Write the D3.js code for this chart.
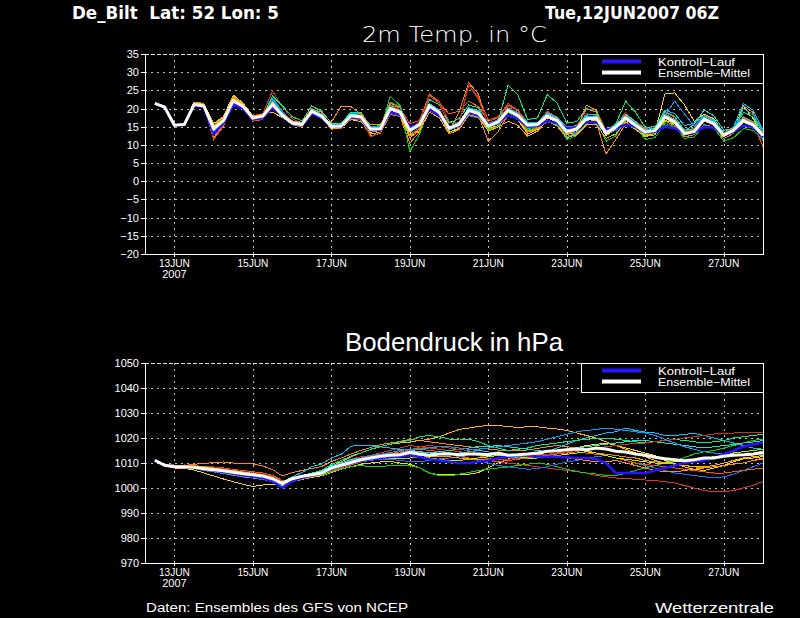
<!DOCTYPE html>
<html>
<head>
<meta charset="utf-8">
<script src="https://cdn.jsdelivr.net/npm/d3@7"></script>
<style>
  body { margin: 0; background: #000; }
  svg { display: block; }
  text { fill: #fff; font-family: "Liberation Sans", "DejaVu Sans", sans-serif; }
</style>
</head>
<body>
<div id="chart"></div>
<script>

/*
 * Data: GFS ensemble meteogram De_Bilt, run Tue 12JUN2007 06Z
 * 6-hourly steps starting 12JUN 12Z
 */

var stationLabel = "De_Bilt  Lat: 52 Lon: 5";
var runLabel = "Tue,12JUN2007 06Z";
var dayTicks = [13, 15, 17, 19, 21, 23, 25, 27];
var tempTicks = [-20, -15, -10, -5, 0, 5, 10, 15, 20, 25, 30, 35];
var presTicks = [970, 980, 990, 1000, 1010, 1020, 1030, 1040, 1050];
var legendLabels = ["Kontroll\u2212Lauf", "Ensemble\u2212Mittel"];
var memberColors = ["#e6321e", "#ff8c00", "#ffd700", "#00dc00", "#00c8ff", "#1e78ff", "#ff5a00",
                    "#ffb400", "#00f08c", "#20e0c8", "#c83c14", "#b4f000", "#00a0ff", "#ff9600"];

// 2m temperature (°C)
var tempMean = [21.4, 20.4, 15.4, 15.6, 21.1, 20.7, 14.4, 16.7, 22.2, 20.6, 17.4, 17.9, 21.1, 18.1, 16.0, 15.6, 19.2, 17.9, 15.1, 15.2, 18.0,
  17.7, 14.3, 14.4, 20.0, 19.0, 14.0, 15.6, 20.7, 18.9, 14.6, 15.6, 19.5, 18.6, 15.2, 16.3, 19.5, 18.1, 15.4, 15.6, 17.9,
  16.7, 13.7, 14.4, 17.2, 17.4, 13.3, 14.9, 17.4, 15.4, 13.5, 14.0, 17.7, 16.3, 13.1, 13.7, 17.0, 15.8, 12.6, 14.0, 16.7, 15.5, 12.6];
var tempControl = [21.4, 20.4, 15.4, 15.6, 20.8, 20.4, 13.0, 16.0, 21.0, 20.0, 17.0, 17.4, 20.2, 18.0, 15.8, 15.4, 18.6, 17.5, 15.0, 15.2, 17.6,
  17.2, 14.0, 14.2, 19.0, 18.2, 15.0, 15.6, 19.8, 18.2, 15.0, 15.2, 19.0, 18.0, 15.6, 16.0, 18.2, 17.2, 15.0, 15.2, 16.6,
  16.0, 14.6, 14.8, 16.2, 16.2, 14.2, 14.6, 15.6, 15.0, 13.2, 13.6, 15.0, 14.6, 13.0, 13.3, 14.9, 14.8, 12.6, 13.6, 15.4, 15.0, 12.0];
var tempRun01 = [21.6, 20.7, 15.2, 15.5, 21.5, 21.0, 14.9, 17.2, 23.4, 21.3, 18.0, 18.6, 24.8, 20.5, 17.2, 16.0, 20.1, 18.5, 15.6, 15.4, 18.9,
  18.2, 14.9, 15.0, 21.8, 20.6, 14.5, 16.4, 23.9, 22.0, 16.5, 16.0, 26.5, 23.1, 16.9, 17.8, 21.4, 19.6, 16.2, 15.9, 19.3,
  17.5, 14.6, 15.1, 18.6, 18.0, 13.9, 15.8, 18.9, 16.3, 14.1, 14.8, 19.0, 17.5, 13.6, 14.5, 18.3, 16.9, 13.4, 14.8, 17.8, 16.4, 13.5];
var tempRun02 = [21.3, 20.3, 15.5, 15.7, 20.8, 20.4, 12.0, 15.6, 21.6, 20.2, 16.9, 17.4, 20.4, 17.6, 15.5, 15.0, 18.6, 17.6, 14.3, 14.9, 17.2,
  16.8, 12.5, 13.2, 18.4, 17.8, 10.5, 13.6, 19.6, 18.0, 13.8, 19.0, 27.1, 24.0, 14.3, 15.0, 18.2, 17.0, 13.5, 14.2, 16.4,
  15.6, 12.4, 13.0, 16.0, 16.2, 7.5, 11.5, 15.8, 14.5, 12.6, 13.2, 16.5, 15.4, 12.2, 12.8, 15.6, 14.9, 11.7, 13.2, 20.8, 18.9, 11.0];
var tempRun03 = [21.5, 20.5, 15.6, 15.8, 21.6, 21.2, 15.9, 17.8, 23.7, 21.5, 17.8, 18.3, 19.0, 17.5, 16.0, 15.3, 18.8, 17.4, 14.6, 14.7, 17.0,
  16.4, 13.5, 14.0, 19.0, 18.5, 12.8, 14.5, 19.8, 18.6, 13.5, 14.6, 18.0, 17.5, 14.6, 15.3, 18.1, 16.9, 13.0, 14.3, 18.2,
  16.2, 12.8, 13.6, 16.4, 16.8, 12.5, 14.3, 16.9, 15.0, 12.8, 13.6, 24.0, 24.3, 21.0, 16.5, 18.5, 17.2, 13.0, 14.0, 20.6, 17.2, 12.0];
var tempRun04 = [21.2, 20.2, 15.3, 15.5, 20.9, 20.5, 14.0, 16.2, 22.0, 20.4, 17.2, 17.7, 20.6, 17.8, 15.8, 15.4, 19.0, 17.6, 15.0, 15.0, 17.5,
  17.0, 13.8, 14.1, 23.4, 20.8, 8.2, 13.0, 20.2, 18.4, 14.2, 15.0, 19.0, 18.1, 14.0, 15.2, 19.0, 17.5, 14.2, 14.6, 16.9,
  15.5, 11.5, 12.5, 16.0, 16.5, 11.0, 12.5, 17.0, 15.0, 11.5, 12.0, 16.0, 15.0, 11.8, 12.2, 15.5, 14.6, 11.0, 12.0, 14.5, 14.0, 11.5];
var tempRun05 = [21.5, 20.6, 15.4, 15.6, 21.3, 20.9, 14.8, 17.0, 23.0, 20.9, 17.6, 18.2, 22.8, 19.3, 16.6, 15.8, 19.5, 18.3, 15.3, 15.4, 18.4,
  18.0, 14.8, 15.1, 21.0, 19.6, 14.5, 16.0, 21.4, 19.5, 15.0, 16.1, 20.3, 19.4, 15.8, 17.0, 20.4, 18.9, 16.3, 16.2, 18.8,
  17.6, 14.9, 15.3, 18.2, 18.4, 14.2, 15.6, 18.0, 16.2, 14.2, 14.6, 19.6, 18.6, 15.3, 16.0, 18.0, 16.8, 13.4, 14.9, 21.4, 19.5, 14.0];
var tempRun06 = [21.3, 20.3, 15.3, 15.5, 20.7, 20.3, 13.2, 16.0, 21.3, 20.1, 16.8, 17.5, 20.3, 17.6, 15.6, 15.3, 18.5, 17.2, 14.8, 15.0, 17.3,
  17.1, 13.9, 14.0, 19.2, 18.4, 13.6, 15.0, 19.5, 18.0, 14.0, 15.2, 18.0, 17.4, 15.0, 15.7, 18.1, 17.0, 14.8, 15.1, 16.5,
  15.9, 13.2, 13.5, 15.5, 15.8, 13.0, 14.0, 15.6, 15.0, 13.6, 13.9, 15.4, 14.8, 13.2, 13.5, 15.3, 14.8, 12.8, 13.5, 15.2, 14.6, 12.2];
var tempRun07 = [21.4, 20.4, 15.2, 15.4, 21.0, 20.6, 11.5, 15.2, 21.8, 20.0, 16.5, 17.0, 21.5, 18.5, 16.2, 15.1, 18.7, 17.6, 14.8, 14.6, 17.6,
  17.4, 14.6, 14.8, 21.0, 20.2, 15.8, 16.7, 24.0, 21.5, 18.5, 19.3, 22.0, 20.5, 16.5, 17.5, 21.0, 19.4, 15.5, 15.5, 18.5,
  17.3, 14.3, 15.0, 19.8, 19.6, 14.0, 15.2, 18.2, 16.5, 14.5, 15.1, 18.3, 16.8, 13.3, 14.2, 17.5, 16.2, 13.2, 14.6, 17.4, 16.0, 9.5];
var tempRun08 = [21.6, 20.6, 15.5, 15.7, 21.4, 21.0, 14.6, 17.3, 22.8, 21.0, 17.7, 18.1, 21.0, 17.9, 15.6, 15.2, 18.6, 17.3, 14.5, 14.7, 17.0,
  16.9, 13.0, 13.5, 18.8, 18.0, 12.0, 14.0, 19.0, 17.5, 13.0, 14.2, 18.3, 17.6, 13.8, 14.9, 16.5, 15.4, 12.4, 13.8, 16.6,
  15.2, 12.0, 12.8, 15.5, 15.6, 11.8, 13.0, 16.4, 14.2, 12.3, 12.8, 17.6, 16.1, 12.9, 13.6, 17.6, 16.3, 12.4, 13.6, 16.8, 15.4, 12.2];
var tempRun09 = [21.3, 20.4, 15.6, 15.8, 21.2, 20.8, 15.2, 17.4, 22.4, 20.8, 17.5, 18.0, 23.5, 20.8, 17.8, 16.6, 20.7, 19.3, 16.0, 16.0, 19.0,
  19.0, 15.0, 15.3, 21.5, 20.4, 13.8, 15.8, 22.5, 21.0, 16.0, 17.2, 21.0, 20.2, 14.5, 16.4, 26.4, 23.8, 17.0, 17.4, 23.8,
  21.6, 16.0, 16.4, 20.0, 19.0, 13.8, 15.8, 22.0, 19.0, 14.8, 15.0, 19.2, 17.8, 14.0, 14.5, 17.2, 16.6, 13.0, 14.2, 19.0, 17.6, 13.6];
var tempRun10 = [21.5, 20.5, 15.4, 15.6, 21.0, 20.6, 14.2, 16.8, 22.5, 20.7, 17.6, 18.0, 22.0, 18.8, 16.4, 16.0, 19.6, 18.2, 15.4, 15.6, 18.3,
  18.2, 14.6, 14.8, 20.6, 19.6, 14.6, 16.0, 20.5, 19.0, 14.9, 16.2, 20.0, 19.1, 15.5, 16.6, 19.8, 18.6, 15.8, 16.0, 18.6,
  17.5, 14.2, 15.0, 17.7, 17.8, 13.9, 15.3, 18.4, 16.3, 14.0, 14.6, 18.5, 17.0, 13.7, 15.8, 19.6, 18.0, 14.0, 14.6, 17.6, 16.3, 13.0];
var tempRun11 = [21.4, 20.4, 15.3, 15.5, 21.2, 20.8, 13.8, 16.4, 21.9, 20.4, 17.0, 17.6, 21.6, 18.4, 16.2, 15.4, 19.0, 17.8, 15.0, 15.1, 18.2,
  17.9, 12.2, 13.5, 20.6, 19.8, 12.5, 14.8, 23.5, 21.4, 15.2, 15.6, 26.6, 22.5, 15.6, 16.8, 20.5, 18.6, 15.5, 15.5, 18.0,
  16.5, 13.6, 14.2, 17.0, 17.4, 13.2, 14.6, 17.0, 15.2, 13.4, 13.9, 17.3, 15.9, 12.7, 13.4, 16.6, 15.4, 12.4, 13.9, 16.4, 15.2, 12.4];
var tempRun12 = [21.4, 20.5, 15.5, 15.7, 21.4, 20.9, 15.0, 17.0, 22.0, 20.5, 17.3, 17.8, 20.8, 17.8, 15.9, 15.5, 19.3, 18.0, 15.2, 15.3, 17.9,
  17.6, 14.0, 14.2, 19.5, 18.8, 14.8, 15.8, 20.2, 18.5, 14.4, 15.4, 19.2, 18.2, 15.2, 16.0, 19.2, 17.8, 15.0, 15.3, 17.4,
  16.4, 13.0, 14.0, 16.8, 17.0, 12.8, 14.5, 17.2, 15.3, 12.4, 13.2, 16.8, 15.8, 13.0, 13.4, 16.8, 15.5, 12.3, 13.7, 16.2, 15.3, 11.8];
var tempRun13 = [21.2, 20.3, 15.4, 15.6, 21.0, 20.6, 13.6, 16.4, 22.4, 20.8, 17.5, 18.0, 22.4, 19.0, 16.5, 15.8, 20.0, 18.6, 15.5, 15.6, 18.6,
  18.5, 15.0, 15.0, 20.4, 19.4, 14.8, 16.0, 21.0, 19.5, 15.0, 16.0, 19.6, 18.6, 16.0, 16.8, 20.0, 18.8, 14.5, 15.0, 17.6,
  16.6, 12.2, 13.4, 17.6, 17.8, 13.6, 15.0, 17.8, 16.0, 13.8, 14.2, 18.2, 22.0, 18.5, 15.2, 17.8, 16.4, 12.8, 14.2, 20.0, 18.4, 13.8];
var tempRun14 = [21.5, 20.6, 15.6, 15.8, 21.8, 21.4, 15.4, 17.6, 23.2, 21.2, 17.9, 18.4, 21.8, 18.6, 16.6, 16.2, 19.8, 19.0, 16.2, 20.7, 20.5,
  18.5, 15.5, 15.6, 20.4, 19.4, 12.4, 14.4, 20.8, 19.2, 13.0, 14.4, 18.8, 18.0, 11.0, 13.6, 18.2, 17.2, 13.8, 14.5, 17.4,
  16.8, 13.0, 14.0, 20.9, 19.5, 13.0, 14.6, 17.6, 15.8, 13.4, 14.0, 17.4, 16.4, 12.8, 13.4, 17.4, 16.0, 12.2, 14.4, 17.0, 15.8, 12.4];

// surface pressure (hPa)
var presMean = [1011.1, 1009.1, 1008.5, 1008.5, 1008.3, 1007.7, 1007.3, 1006.9, 1006.3, 1005.7, 1005.3, 1004.8, 1003.7, 1001.9, 1003.7, 1004.7, 1005.3, 1006.0, 1008.0, 1009.1, 1010.2,
  1011.3, 1012.0, 1012.7, 1013.1, 1013.3, 1014.3, 1013.6, 1013.1, 1013.6, 1013.7, 1013.3, 1013.6, 1013.6, 1013.3, 1014.0, 1013.1, 1013.3, 1013.6, 1014.0, 1014.7, 1014.9,
  1015.3, 1015.6, 1015.3, 1016.0, 1015.6, 1014.7, 1014.4, 1013.6, 1013.1, 1012.3, 1011.7, 1011.3, 1010.9, 1011.3, 1012.0, 1012.0, 1012.7, 1013.1, 1013.3, 1013.6, 1014.3];
var presControl = [1011.2, 1009.1, 1008.5, 1008.4, 1008.2, 1007.5, 1007.0, 1006.4, 1005.7, 1005.0, 1004.5, 1004.0, 1002.8, 1000.0, 1002.8, 1004.0, 1005.0, 1005.8, 1007.6, 1008.8, 1010.0,
  1010.8, 1011.6, 1012.0, 1012.4, 1012.6, 1013.0, 1012.4, 1011.5, 1011.0, 1010.5, 1010.0, 1010.0, 1010.5, 1011.0, 1012.0, 1012.5, 1013.0, 1013.0, 1012.6, 1012.5, 1012.5,
  1012.3, 1012.0, 1012.0, 1011.5, 1010.0, 1006.0, 1006.0, 1006.0, 1006.0, 1007.0, 1008.0, 1009.0, 1010.0, 1010.6, 1011.0, 1012.0, 1013.5, 1015.0, 1016.5, 1017.5, 1018.2];
var presRun01 = [1011.3, 1009.5, 1009.0, 1009.2, 1009.0, 1008.6, 1008.0, 1007.5, 1007.0, 1006.5, 1006.0, 1005.5, 1004.6, 1002.5, 1004.0, 1005.0, 1005.6, 1006.5, 1008.5, 1010.0, 1011.5,
  1012.5, 1013.0, 1014.0, 1015.0, 1016.0, 1017.0, 1016.5, 1016.0, 1015.5, 1015.0, 1014.6, 1014.0, 1013.0, 1011.5, 1010.5, 1010.0, 1009.5, 1009.0, 1008.5, 1008.0, 1007.5,
  1007.0, 1006.5, 1006.0, 1005.0, 1004.5, 1004.0, 1003.8, 1003.5, 1003.2, 1003.0, 1002.5, 1002.0, 1001.0, 1000.0, 999.0, 998.5, 998.4, 999.0, 1000.0, 1001.0, 1002.6];
var presRun02 = [1011.0, 1009.0, 1008.8, 1009.0, 1009.5, 1009.8, 1010.2, 1010.4, 1010.0, 1010.0, 1009.6, 1008.8, 1007.4, 1004.8, 1006.2, 1007.0, 1007.8, 1008.6, 1010.6, 1012.0, 1013.6,
  1015.0, 1016.2, 1017.4, 1018.0, 1018.6, 1019.4, 1019.0, 1018.5, 1018.0, 1017.4, 1017.0, 1016.5, 1016.0, 1015.6, 1015.2, 1015.0, 1014.8, 1015.2, 1015.8, 1016.5, 1017.0,
  1016.5, 1016.0, 1015.0, 1014.0, 1013.5, 1013.0, 1012.4, 1012.0, 1011.0, 1010.5, 1010.0, 1009.5, 1009.0, 1008.5, 1008.0, 1008.5, 1009.0, 1009.6, 1010.0, 1011.0, 1011.5];
var presRun03 = [1011.0, 1008.8, 1008.0, 1007.8, 1007.2, 1006.0, 1004.8, 1003.6, 1002.5, 1001.5, 1000.6, 1001.2, 1001.4, 1001.0, 1002.6, 1003.5, 1004.3, 1004.9, 1006.2, 1007.5, 1008.5,
  1009.5, 1010.0, 1010.4, 1010.6, 1010.0, 1009.5, 1008.0, 1006.0, 1005.3, 1005.3, 1005.5, 1005.5, 1006.2, 1008.0, 1010.0, 1011.6, 1012.2, 1013.0, 1014.0, 1015.0, 1015.2,
  1015.5, 1016.0, 1017.0, 1017.4, 1018.0, 1017.0, 1016.0, 1015.0, 1014.0, 1013.0, 1011.0, 1009.8, 1008.4, 1007.5, 1007.0, 1008.0, 1009.0, 1010.5, 1011.6, 1012.0, 1012.6];
var presRun04 = [1011.2, 1009.2, 1008.6, 1008.5, 1008.2, 1007.5, 1007.0, 1006.2, 1005.6, 1004.8, 1004.0, 1003.4, 1002.6, 1001.0, 1002.6, 1003.8, 1004.5, 1005.0, 1006.5, 1007.6, 1008.6,
  1009.0, 1008.5, 1008.5, 1009.0, 1009.2, 1009.0, 1008.0, 1006.0, 1005.0, 1004.8, 1005.5, 1006.2, 1007.0, 1007.5, 1008.0, 1008.4, 1009.0, 1009.5, 1010.0, 1009.5, 1008.5,
  1007.5, 1006.6, 1006.0, 1005.6, 1005.0, 1005.0, 1005.8, 1007.0, 1008.0, 1009.0, 1010.0, 1011.0, 1012.2, 1013.6, 1014.5, 1015.0, 1016.0, 1017.0, 1018.0, 1019.0, 1019.6];
var presRun05 = [1011.2, 1009.3, 1008.6, 1008.6, 1008.4, 1008.0, 1007.8, 1007.4, 1006.8, 1006.0, 1005.6, 1005.0, 1004.0, 1002.4, 1004.5, 1006.2, 1008.5, 1009.6, 1012.0, 1013.5, 1016.7,
  1017.2, 1017.0, 1016.5, 1016.0, 1015.4, 1015.0, 1014.4, 1014.0, 1013.5, 1013.6, 1014.0, 1014.5, 1015.0, 1014.5, 1013.5, 1012.5, 1012.0, 1012.0, 1013.0, 1014.5, 1016.0,
  1017.5, 1019.0, 1020.0, 1021.0, 1022.0, 1022.5, 1024.0, 1023.0, 1022.4, 1022.0, 1021.0, 1021.0, 1021.5, 1021.8, 1021.0, 1020.0, 1019.0, 1018.0, 1017.0, 1016.0, 1015.5];
var presRun06 = [1011.0, 1009.0, 1008.3, 1008.2, 1007.8, 1007.0, 1006.4, 1005.8, 1005.0, 1004.4, 1004.0, 1003.4, 1002.4, 1000.2, 1002.4, 1003.6, 1004.4, 1005.2, 1007.0, 1008.2, 1009.4,
  1010.5, 1011.0, 1011.5, 1011.5, 1011.0, 1010.6, 1010.6, 1011.0, 1011.6, 1012.0, 1012.6, 1012.0, 1011.0, 1010.0, 1009.0, 1008.5, 1008.0, 1007.5, 1007.8, 1008.5, 1009.5,
  1010.5, 1011.0, 1012.0, 1012.5, 1013.0, 1012.0, 1011.0, 1010.0, 1009.0, 1008.0, 1007.0, 1006.0, 1005.5, 1005.0, 1004.5, 1004.0, 1004.5, 1005.5, 1007.0, 1008.5, 1010.0];
var presRun07 = [1011.3, 1009.4, 1008.7, 1008.6, 1008.6, 1008.4, 1008.2, 1008.0, 1007.4, 1007.0, 1006.5, 1006.0, 1005.0, 1003.0, 1003.5, 1004.0, 1004.6, 1005.4, 1006.8, 1008.0, 1009.2,
  1010.4, 1011.6, 1012.6, 1013.6, 1014.5, 1015.0, 1015.5, 1015.0, 1014.6, 1014.0, 1013.0, 1012.0, 1011.4, 1011.0, 1010.5, 1011.0, 1011.5, 1012.0, 1012.6, 1013.0, 1013.6,
  1014.0, 1014.5, 1014.0, 1013.5, 1013.0, 1012.0, 1011.0, 1010.0, 1009.4, 1009.0, 1008.5, 1008.0, 1007.5, 1007.0, 1006.5, 1006.0, 1006.0, 1006.5, 1007.0, 1007.5, 1008.0];
var presRun08 = [1011.0, 1008.9, 1008.4, 1008.2, 1007.9, 1007.2, 1006.6, 1006.0, 1005.4, 1005.0, 1004.4, 1003.6, 1002.8, 1001.4, 1003.0, 1004.0, 1005.0, 1006.0, 1008.6, 1010.5, 1012.5,
  1014.0, 1015.5, 1016.5, 1017.5, 1018.0, 1018.4, 1019.0, 1019.5, 1020.5, 1022.0, 1023.4, 1024.0, 1024.6, 1025.0, 1025.0, 1024.6, 1024.2, 1024.5, 1024.5, 1024.0, 1023.6,
  1023.0, 1022.0, 1021.0, 1020.0, 1018.5, 1017.0, 1015.5, 1014.0, 1012.5, 1011.0, 1010.0, 1009.5, 1009.0, 1008.5, 1008.5, 1009.0, 1010.0, 1011.0, 1012.0, 1012.5, 1013.0];
var presRun09 = [1011.1, 1009.2, 1008.6, 1008.7, 1008.6, 1008.2, 1007.6, 1007.0, 1006.6, 1006.2, 1005.8, 1005.3, 1004.2, 1002.0, 1003.8, 1005.0, 1006.0, 1007.0, 1009.4, 1011.0, 1012.8,
  1014.0, 1015.5, 1016.5, 1017.5, 1018.5, 1019.0, 1020.5, 1021.0, 1020.5, 1019.6, 1019.6, 1019.5, 1018.5, 1017.0, 1016.0, 1015.0, 1015.5, 1016.0, 1017.0, 1017.5, 1018.0,
  1018.6, 1019.0, 1019.5, 1019.8, 1020.0, 1019.5, 1019.0, 1018.5, 1018.0, 1018.6, 1019.0, 1019.4, 1019.0, 1018.5, 1018.0, 1018.5, 1019.0, 1020.0, 1020.5, 1021.0, 1021.5];
var presRun10 = [1011.2, 1009.1, 1008.5, 1008.4, 1008.2, 1007.6, 1007.2, 1006.8, 1006.2, 1005.6, 1005.2, 1004.6, 1003.5, 1001.5, 1003.4, 1004.6, 1005.6, 1006.6, 1008.8, 1010.0, 1011.4,
  1012.0, 1012.5, 1013.5, 1014.0, 1014.0, 1015.0, 1014.6, 1014.0, 1014.5, 1015.0, 1015.5, 1016.0, 1016.6, 1016.6, 1017.0, 1016.5, 1016.0, 1015.5, 1015.0, 1014.5, 1014.8,
  1015.5, 1016.0, 1016.5, 1017.0, 1017.5, 1018.0, 1018.5, 1019.0, 1019.0, 1018.5, 1018.0, 1017.5, 1017.0, 1016.5, 1016.0, 1016.5, 1017.0, 1017.4, 1018.0, 1018.4, 1019.0];
var presRun11 = [1011.2, 1009.4, 1009.2, 1009.2, 1009.0, 1008.6, 1008.4, 1007.8, 1007.2, 1006.6, 1006.0, 1005.4, 1004.4, 1002.2, 1003.6, 1004.4, 1005.0, 1005.8, 1007.6, 1009.0, 1010.6,
  1011.8, 1012.8, 1013.4, 1013.8, 1014.0, 1015.0, 1016.4, 1017.0, 1016.5, 1016.0, 1015.4, 1015.0, 1013.5, 1012.0, 1011.5, 1011.5, 1012.0, 1012.5, 1013.0, 1013.5, 1014.0,
  1014.5, 1015.0, 1015.5, 1016.0, 1016.5, 1017.0, 1017.5, 1017.8, 1018.0, 1018.5, 1019.0, 1019.5, 1020.0, 1020.5, 1021.0, 1021.6, 1022.0, 1022.0, 1022.2, 1022.4, 1022.2];
var presRun12 = [1011.0, 1009.0, 1008.4, 1008.3, 1008.0, 1007.4, 1006.8, 1006.0, 1005.2, 1004.6, 1004.0, 1003.6, 1002.8, 1001.0, 1002.5, 1003.4, 1004.2, 1005.2, 1007.2, 1008.6, 1010.0,
  1011.0, 1011.6, 1012.0, 1012.0, 1011.6, 1012.0, 1012.5, 1012.0, 1011.5, 1011.0, 1011.0, 1011.5, 1012.0, 1012.5, 1013.0, 1013.0, 1012.5, 1012.0, 1012.0, 1012.5, 1013.0,
  1013.5, 1014.0, 1014.5, 1014.0, 1013.0, 1012.0, 1011.5, 1011.0, 1010.5, 1010.0, 1010.0, 1010.5, 1011.0, 1011.5, 1012.0, 1012.5, 1013.0, 1014.0, 1014.5, 1015.0, 1015.5];
var presRun13 = [1011.1, 1009.0, 1008.3, 1008.3, 1008.0, 1007.5, 1007.2, 1006.6, 1006.0, 1005.2, 1004.8, 1004.2, 1003.2, 1001.2, 1003.0, 1004.0, 1005.0, 1006.4, 1008.6, 1009.8, 1011.0,
  1012.0, 1013.0, 1013.5, 1014.2, 1015.0, 1015.5, 1015.8, 1016.0, 1016.5, 1016.5, 1016.0, 1015.5, 1015.5, 1016.0, 1016.5, 1017.0, 1017.5, 1018.0, 1018.5, 1019.5, 1020.5,
  1021.5, 1022.5, 1023.0, 1023.4, 1024.0, 1023.5, 1023.0, 1022.5, 1022.0, 1021.0, 1019.5, 1018.0, 1016.5, 1015.5, 1014.5, 1014.0, 1013.5, 1013.0, 1013.0, 1013.2, 1013.5];
var presRun14 = [1011.0, 1009.2, 1008.7, 1008.8, 1008.8, 1008.6, 1008.0, 1007.4, 1007.0, 1006.4, 1005.8, 1005.2, 1004.0, 1001.6, 1002.8, 1003.6, 1004.4, 1005.4, 1007.4, 1008.8, 1010.0,
  1011.0, 1011.8, 1012.4, 1012.6, 1013.0, 1013.5, 1013.0, 1012.5, 1012.5, 1012.5, 1012.0, 1011.6, 1011.4, 1011.5, 1012.0, 1012.6, 1013.0, 1013.5, 1013.5, 1013.0, 1012.5,
  1012.0, 1011.5, 1011.0, 1010.5, 1010.5, 1011.0, 1010.0, 1009.0, 1008.0, 1007.0, 1006.6, 1006.5, 1007.0, 1007.5, 1008.0, 1008.5, 1009.0, 1009.5, 1010.0, 1011.0, 1012.0];

var tempMembers = [tempRun01, tempRun02, tempRun03, tempRun04, tempRun05, tempRun06, tempRun07,
                   tempRun08, tempRun09, tempRun10, tempRun11, tempRun12, tempRun13, tempRun14];
var presMembers = [presRun01, presRun02, presRun03, presRun04, presRun05, presRun06, presRun07,
                   presRun08, presRun09, presRun10, presRun11, presRun12, presRun13, presRun14];


/*
 * shared canvas and time axis
 */
var plotLeft = 145, plotRight = 763, plotHeight = 200;
var firstStep = Date.UTC(2007, 5, 12, 12);
var stepMs = 6 * 3600 * 1000;

var svg = d3.select("#chart").append("svg")
		.attr("width", 800)
		.attr("height", 618)
		.style("background", "#000");

var x = d3.scaleUtc()
		.domain([new Date(Date.UTC(2007, 5, 12, 6)), new Date(Date.UTC(2007, 5, 28, 0))])
		.range([plotLeft, plotRight]);

function stepX(i) { return x(new Date(firstStep + i * stepMs)); }
function dayX(d) { return Math.round(x(new Date(Date.UTC(2007, 5, d)))) + 0.5; }


/*
 * EnsembleChart - one meteogram panel
 * @param _svg		-- the svg to draw into
 * @param _opts		-- panel settings and series
 */
EnsembleChart = function(_svg, _opts){
	this.svg = _svg;
	this.opts = _opts;
	this.initVis();
}

EnsembleChart.prototype.initVis = function(){
	var vis = this;
	var o = vis.opts;

	vis.top = o.top;
	vis.bottom = o.top + plotHeight;
	vis.y = d3.scaleLinear().domain(o.yDomain).range([vis.bottom, vis.top]);
	vis.g = vis.svg.append("g");

	// title
	vis.g.append("text")
			.attr("x", o.titleX).attr("y", o.titleY)
			.attr("textLength", o.titleWidth).attr("lengthAdjust", "spacingAndGlyphs")
			.style("font-family", o.titleFont)
			.style("font-size", o.titleSize + "px")
			.style("font-weight", o.titleWeight)
			.text(o.title);

	// dotted grid
	vis.g.selectAll(".hgrid").data(o.yTicks.slice(1, -1)).enter()
			.append("line")
			.attr("x1", plotLeft).attr("x2", plotRight)
			.attr("y1", function(d) { return Math.round(vis.y(d)) + 0.5; })
			.attr("y2", function(d) { return Math.round(vis.y(d)) + 0.5; })
			.attr("stroke", "#bebebe").attr("stroke-dasharray", "2,4")
			.attr("shape-rendering", "crispEdges");

	vis.g.selectAll(".vgrid").data(dayTicks).enter()
			.append("line")
			.attr("x1", dayX).attr("x2", dayX)
			.attr("y1", vis.top).attr("y2", vis.bottom)
			.attr("stroke", "#bebebe").attr("stroke-dasharray", "2,4")
			.attr("shape-rendering", "crispEdges");

	// frame: dashed top, solid rest
	vis.g.append("line")
			.attr("x1", plotLeft).attr("x2", plotRight)
			.attr("y1", vis.top + 0.5).attr("y2", vis.top + 0.5)
			.attr("stroke", "#e6e6e6").attr("stroke-dasharray", "4,2")
			.attr("shape-rendering", "crispEdges");
	vis.g.append("path")
			.attr("d", "M" + (plotLeft + 0.5) + "," + vis.top + "V" + (vis.bottom + 0.5) +
					"H" + (plotRight + 0.5) + "V" + vis.top)
			.attr("fill", "none").attr("stroke", "#fff")
			.attr("shape-rendering", "crispEdges");

	// y ticks
	var yt = vis.g.selectAll(".ytick").data(o.yTicks).enter().append("g");
	yt.append("line")
			.attr("x1", plotLeft - 4).attr("x2", plotLeft)
			.attr("y1", function(d) { return Math.round(vis.y(d)) + 0.5; })
			.attr("y2", function(d) { return Math.round(vis.y(d)) + 0.5; })
			.attr("stroke", "#fff").attr("shape-rendering", "crispEdges");
	yt.append("text")
			.attr("x", plotLeft - 6)
			.attr("y", function(d) { return vis.y(d) + 4; })
			.attr("text-anchor", "end")
			.style("font-size", "11px")
			.text(function(d) { return d3.format("d")(d); });

	// x ticks
	var xt = vis.g.selectAll(".xtick").data(dayTicks).enter().append("g");
	xt.append("line")
			.attr("x1", dayX).attr("x2", dayX)
			.attr("y1", vis.bottom).attr("y2", vis.bottom + 3)
			.attr("stroke", "#fff").attr("shape-rendering", "crispEdges");
	xt.append("text")
			.attr("x", function(d) { return x(new Date(Date.UTC(2007, 5, d))); })
			.attr("y", vis.bottom + 13)
			.attr("text-anchor", "middle")
			.attr("textLength", 31).attr("lengthAdjust", "spacingAndGlyphs")
			.style("font-size", "11px")
			.text(function(d) { return d + "JUN"; });
	vis.g.append("text")
			.attr("x", x(new Date(Date.UTC(2007, 5, dayTicks[0]))))
			.attr("y", vis.bottom + 24)
			.attr("text-anchor", "middle")
			.style("font-size", "11px")
			.text("2007");

	// ensemble lines
	vis.line = d3.line()
			.x(function(d, i) { return stepX(i); })
			.y(function(d) { return vis.y(d); });

	vis.g.selectAll(".member").data(o.members).enter()
			.append("path")
			.attr("d", vis.line)
			.attr("fill", "none")
			.attr("stroke", function(d, i) { return memberColors[i % memberColors.length]; })
			.attr("stroke-width", 1)
			.attr("shape-rendering", "crispEdges");

	vis.g.append("path").datum(o.control)
			.attr("d", vis.line).attr("fill", "none")
			.attr("stroke", "#2814ff").attr("stroke-width", 2.5);
	vis.g.append("path").datum(o.mean)
			.attr("d", vis.line).attr("fill", "none")
			.attr("stroke", "#fff").attr("stroke-width", 3);

	// legend
	var lg = vis.g.append("g");
	lg.append("rect")
			.attr("x", 581.5).attr("y", vis.top + 0.5)
			.attr("width", plotRight - 581).attr("height", 29)
			.attr("fill", "#000").attr("stroke", "#fff")
			.attr("shape-rendering", "crispEdges");
	lg.selectAll(".lgline").data(["#2814ff", "#fff"]).enter()
			.append("line")
			.attr("x1", 602).attr("x2", 641)
			.attr("y1", function(d, i) { return vis.top + 7.5 + i * 11; })
			.attr("y2", function(d, i) { return vis.top + 7.5 + i * 11; })
			.attr("stroke", function(d) { return d; })
			.attr("stroke-width", 4);
	lg.selectAll(".lgtext").data(legendLabels).enter()
			.append("text")
			.attr("x", 658)
			.attr("y", function(d, i) { return vis.top + 12 + i * 11; })
			.attr("textLength", function(d, i) { return i ? 92 : 77; })
			.attr("lengthAdjust", "spacingAndGlyphs")
			.style("font-size", "11px")
			.text(function(d) { return d; });
}


// header
svg.append("text")
		.attr("x", 72).attr("y", 19)
		.attr("textLength", 207).attr("lengthAdjust", "spacingAndGlyphs")
		.style("font-family", "DejaVu Sans").style("font-weight", "bold").style("font-size", "17px")
		.style("white-space", "pre")
		.text(stationLabel);
svg.append("text")
		.attr("x", 545).attr("y", 19)
		.attr("textLength", 174).attr("lengthAdjust", "spacingAndGlyphs")
		.style("font-family", "DejaVu Sans").style("font-weight", "bold").style("font-size", "17px")
		.text(runLabel);

var tempChart = new EnsembleChart(svg, {
	top: 54, yDomain: [-20, 35], yTicks: tempTicks,
	title: "2m Temp. in \u00b0C", titleX: 362, titleY: 42, titleWidth: 185,
	titleFont: "DejaVu Sans", titleSize: 22, titleWeight: 200,
	members: tempMembers, control: tempControl, mean: tempMean
});

var presChart = new EnsembleChart(svg, {
	top: 363, yDomain: [970, 1050], yTicks: presTicks,
	title: "Bodendruck in hPa", titleX: 345, titleY: 351, titleWidth: 218,
	titleFont: "Liberation Sans", titleSize: 26, titleWeight: "normal",
	members: presMembers, control: presControl, mean: presMean
});

// footer
svg.append("text")
		.attr("x", 146).attr("y", 612)
		.attr("textLength", 262).attr("lengthAdjust", "spacingAndGlyphs")
		.style("font-size", "12.5px")
		.text("Daten: Ensembles des GFS von NCEP");
svg.append("text")
		.attr("x", 655).attr("y", 613)
		.attr("textLength", 119).attr("lengthAdjust", "spacingAndGlyphs")
		.style("font-size", "15px")
		.text("Wetterzentrale");

</script>
</body>
</html>
